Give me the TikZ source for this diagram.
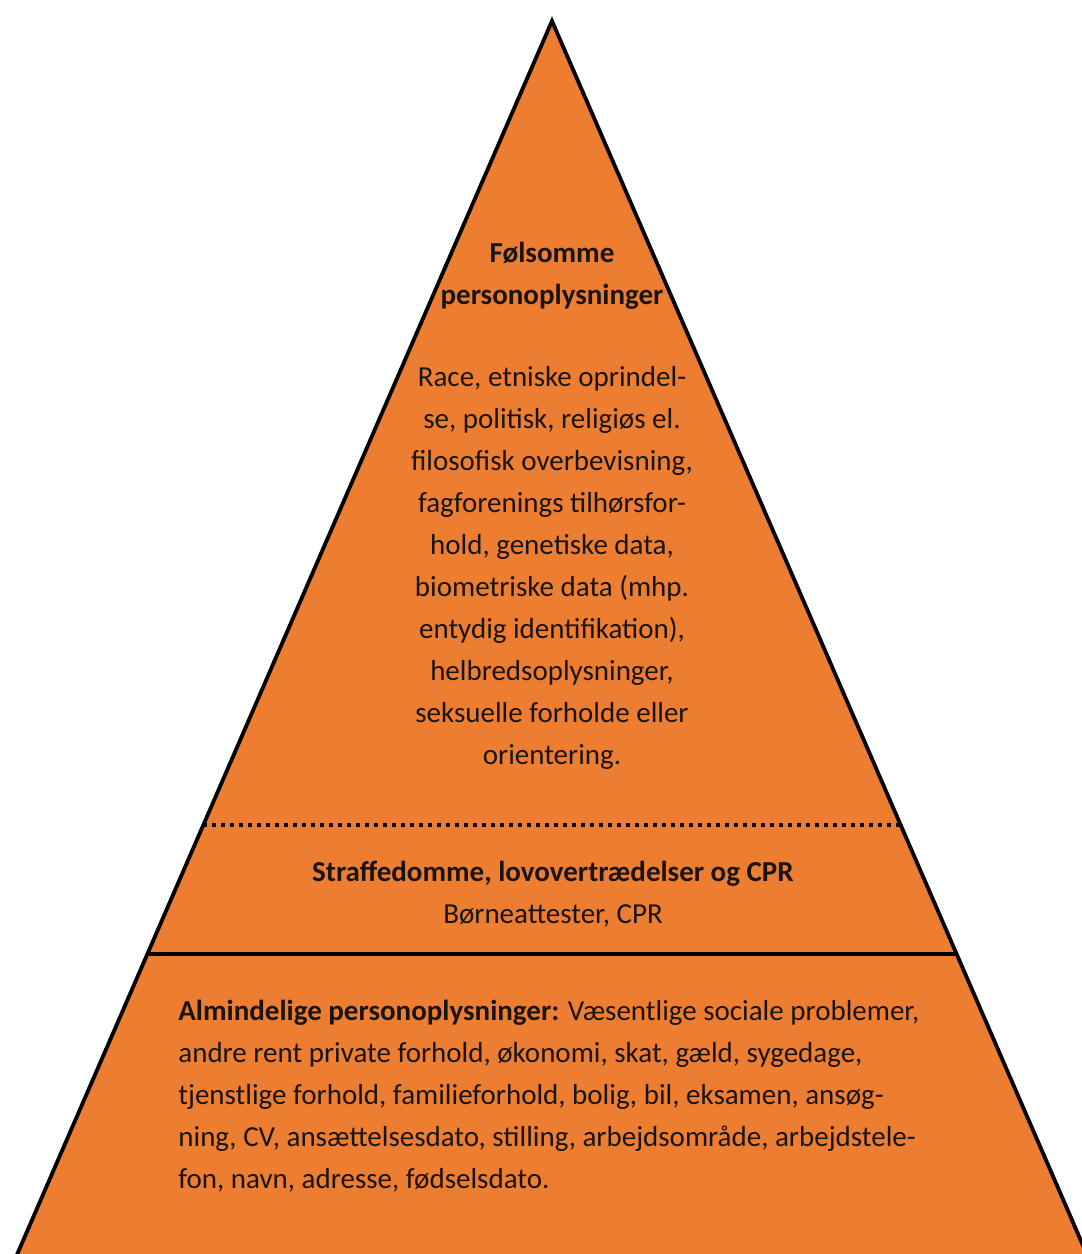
\documentclass[tikz,border=0pt]{standalone}
\usepackage{fontspec}
\setmainfont{Carlito}
\definecolor{pyrorange}{HTML}{ED7D31}
\definecolor{pyrtext}{HTML}{1A1410}
\begin{document}
\begin{tikzpicture}[x=0.5pt,y=-0.5pt,
  txt/.style={inner sep=0pt, text=pyrtext, font=\fontsize{14.5}{21}\selectfont},
  edge/.style={line width=1.9pt, line join=miter}]
\useasboundingbox (0,0) rectangle (1082,1254);
\clip (0,0) rectangle (1082,1254);
% pyramid
\coordinate (apex) at (552,21);
\coordinate (bl) at (6,1280);
\coordinate (br) at (1098,1280);
\fill[pyrorange] (apex) -- (br) -- (bl) -- cycle;
% dividing lines
\coordinate (dl) at (203,825);
\coordinate (dr) at (902,825);
\coordinate (sl) at (147,954);
\coordinate (sr) at (957,954);
\draw[line width=2pt, dash pattern=on 2pt off 2.5pt] (dl) -- (dr);
\draw[line width=1.8pt] (sl) -- (sr);
\draw[edge] (bl) -- (apex) -- (br);
% texts
\node[txt, align=center, font=\fontsize{14.5}{21}\selectfont\bfseries] (title) at (552,276)
  {Følsomme\\personoplysninger};
\node[txt, align=center] (body) at (552,568)
  {Race, etniske oprindel-\\se, politisk, religiøs el.\\filosofisk overbevisning,\\fagforenings tilhørsfor-\\hold, genetiske data,\\biometriske data (mhp.\\entydig identifikation),\\helbredsoplysninger,\\seksuelle forholde eller\\orientering.};
\node[txt, font=\fontsize{14.5}{21}\selectfont\bfseries] (crim) at (553,874)
  {Straffedomme, lovovertrædelser og CPR};
\node[txt] (crimsub) at (553,916) {Børneattester, CPR};
\node[txt, align=left, anchor=west] (common) at (178,1096)
  {\textbf{Almindelige personoplysninger:} Væsentlige sociale problemer,\\andre rent private forhold, økonomi, skat, gæld, sygedage,\\tjenstlige forhold, familieforhold, bolig, bil, eksamen, ansøg-\\ning, CV, ansættelsesdato, stilling, arbejdsområde, arbejdstele-\\fon, navn, adresse, fødselsdato.};
\end{tikzpicture}
\end{document}
